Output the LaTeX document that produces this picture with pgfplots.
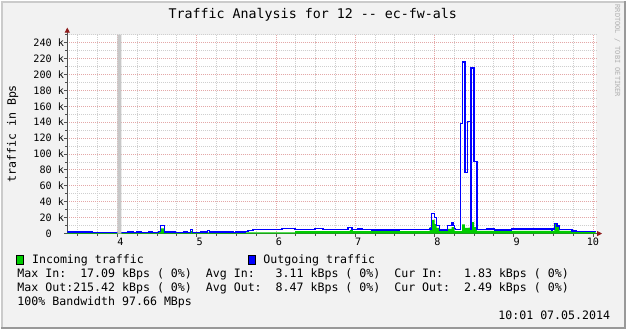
\documentclass[border=0pt]{standalone}
\usepackage{fontspec}
\setmainfont{DejaVu Sans Mono}
\setmonofont{DejaVu Sans Mono}
\usepackage{pgfplots}
\pgfplotsset{compat=1.18}
\usetikzlibrary{arrows.meta}
\definecolor{bgcol}{HTML}{F2F2F2}
\definecolor{shadea}{HTML}{CBCBCB}
\definecolor{shadeb}{HTML}{999999}
\definecolor{axiscol}{HTML}{505050}
\definecolor{arrowred}{HTML}{8E1A1A}
\definecolor{mgrid}{HTML}{E4A8A8}
\definecolor{ggrid}{HTML}{CFCFCF}
\definecolor{ingreen}{HTML}{00CC00}
\definecolor{outblue}{HTML}{0000FF}
\definecolor{unkgray}{HTML}{C8C8C8}
\definecolor{wmark}{HTML}{B0B0B0}
\newcommand\fT{\fontsize{13.35}{15}\selectfont}
\newcommand\fL{\fontsize{11.63}{13}\selectfont}
\newcommand\fK{\fontsize{10.2}{12}\selectfont}
\newcommand\fW{\fontsize{7}{8}\selectfont}
\begin{document}
\frenchspacing
\begin{tikzpicture}
\fill[bgcol] (0pt,0pt) rectangle (627pt,-329pt);
\draw[shadea,line width=2pt] (0pt,-1pt) -- (627pt,-1pt);
\draw[shadea,line width=2pt] (1pt,0pt) -- (1pt,-329pt);
\draw[shadeb,line width=2pt] (626pt,0pt) -- (626pt,-329pt);
\draw[shadeb,line width=2pt] (0pt,-328pt) -- (627pt,-328pt);
\begin{axis}[
 at={(66.5pt,-233.3pt)}, anchor=south west,
 scale only axis, width=530.5pt, height=199.6pt,
 xmin=3.367, xmax=10.04, ymin=0, ymax=250,
 axis lines=left,
 axis line style={draw=axiscol, line width=0.8pt},
 x axis line style={-{Triangle[length=5pt,width=5pt,color=arrowred,fill=arrowred]}, shorten >=-6pt},
 y axis line style={-{Triangle[length=5pt,width=5pt,color=arrowred,fill=arrowred]}, shorten >=-7pt},
 axis background/.style={fill=white},
 xtick={4,5,6,7,8,9,10},
 xticklabels={\hphantom{0}4,\hphantom{0}5,\hphantom{0}6,\hphantom{0}7,\hphantom{0}8,\hphantom{0}9,10},
 minor xtick={3.5,3.75,4.25,4.5,4.75,5.25,5.5,5.75,6.25,6.5,6.75,7.25,7.5,7.75,8.25,8.5,8.75,9.25,9.5,9.75},
 ytick={0,20,40,60,80,100,120,140,160,180,200,220,240},
 yticklabels={0\hphantom{~k},20~k,40~k,60~k,80~k,100~k,120~k,140~k,160~k,180~k,200~k,220~k,240~k},
 minor ytick={10,30,50,70,90,110,130,150,170,190,210,230,250},
 grid=both,
 major grid style={draw=mgrid, line width=0.8pt, dash pattern=on 1pt off 1pt},
 minor grid style={draw=ggrid, line width=0.8pt, dash pattern=on 1pt off 1pt},
 tick align=outside, major tick length=3pt, minor tick length=2pt,
 tick style={draw=axiscol, line width=0.8pt},
 xticklabel style={font=\fK, anchor=north, inner sep=0pt, yshift=-1pt},
 yticklabel style={font=\fK, anchor=east, inner sep=0pt},
]
\addplot[const plot, fill=ingreen, draw=none] coordinates {
(3.367,1.8) (3.688,1.0) (4.128,1.5) (4.204,1.0) (4.242,1.5) (4.304,1.0)
(4.392,1.5) (4.443,1.0) (4.518,2.0) (4.543,6.5) (4.594,1.5) (4.732,1.0)
(4.833,1.5) (4.883,1.0) (4.921,3.0) (4.946,1.2) (5.047,1.5) (6.242,3.0)
(6.933,4.5) (6.972,3.0) (7.940,8.0) (7.965,17.09) (8.002,12.0) (8.028,7.0)
(8.065,3.0) (8.166,6.0) (8.216,8.0) (8.254,3.0) (8.348,11.6) (8.384,7.0)
(8.430,7.5) (8.464,14.5) (8.502,8.0) (8.535,3.5) (9.474,3.5) (9.512,12.0)
(9.546,9.0) (9.575,3.5) (9.738,2.5) (9.789,1.83) (10.034,1.83)
} \closedcycle;
\addplot[const plot, draw=outblue, line width=1.5pt] coordinates {
(3.367,2.0) (3.688,1.3) (4.128,2.0) (4.204,1.3) (4.242,2.0) (4.304,1.3)
(4.392,2.0) (4.443,1.3) (4.518,2.5) (4.543,10.4) (4.594,2.0) (4.732,1.3)
(4.833,2.0) (4.883,1.3) (4.921,5.0) (4.946,1.5) (5.047,2.0) (5.135,3.7)
(5.160,2.0) (5.462,1.3) (5.487,2.0) (5.613,2.5) (5.650,4.0) (5.713,5.4)
(6.078,6.2) (6.242,5.4) (6.493,6.2) (6.594,5.4) (6.908,7.3) (6.959,5.4)
(7.034,6.0) (7.084,5.4) (7.210,4.6) (7.562,5.4) (7.940,6.0) (7.965,25.0)
(8.002,20.0) (8.028,10.4) (8.065,4.5) (8.166,10.0) (8.216,13.8) (8.235,10.0)
(8.254,6.2) (8.267,5.4) (8.330,138.5) (8.351,215.4) (8.384,77.0) (8.414,140.7)
(8.452,5.0) (8.464,208.0) (8.502,90.6) (8.535,5.0) (8.657,5.8) (8.757,4.6)
(8.971,5.8) (9.474,4.2) (9.487,5.8) (9.512,12.5) (9.546,9.2) (9.575,5.0)
(9.738,3.3) (9.789,2.5) (10.034,2.5)
};
\addplot[fill=unkgray, draw=none] coordinates {(4.0,0) (4.0,250) (4.05,250) (4.05,0)} \closedcycle;
\end{axis}
\node[anchor=base, inner sep=0pt, font=\fT] at (312.8pt,-17.5pt) {Traffic~Analysis~for~12~-{}-~ec-fw-als};
\node[rotate=90, inner sep=0pt, font=\fL] at (11.7pt,-133.3pt) {traffic~in~Bps};
\node[rotate=-90, inner sep=0pt, font=\fW, text=wmark] at (618.3pt,-50pt) {RRDTOOL~/~TOBI~OETIKER};
\draw[fill=ingreen, draw=black, line width=0.6pt] (15.2pt,-255pt) rectangle (22.6pt,-264pt);
\draw[fill=outblue, draw=black, line width=0.6pt] (248.2pt,-255pt) rectangle (255.6pt,-264pt);
\node[anchor=base west, inner sep=0pt, font=\fL] at (31pt,-263.3pt) {Incoming~traffic};
\node[anchor=base west, inner sep=0pt, font=\fL] at (263pt,-263.3pt) {Outgoing~traffic};
\node[anchor=base west, inner sep=0pt, font=\fL] at (16.3pt,-277.5pt) {Max~In:~~17.09~kBps~(~0\%)~~Avg~In:~~~3.11~kBps~(~0\%)~~Cur~In:~~~1.83~kBps~(~0\%)};
\node[anchor=base west, inner sep=0pt, font=\fL] at (16.3pt,-291.5pt) {Max~Out:215.42~kBps~(~0\%)~~Avg~Out:~~8.47~kBps~(~0\%)~~Cur~Out:~~2.49~kBps~(~0\%)};
\node[anchor=base west, inner sep=0pt, font=\fL] at (16.3pt,-305.5pt) {100\%~Bandwidth~97.66~MBps};
\node[anchor=base east, inner sep=0pt, font=\fL] at (611.2pt,-319.5pt) {10:01~07.05.2014};
\end{tikzpicture}
\end{document}
